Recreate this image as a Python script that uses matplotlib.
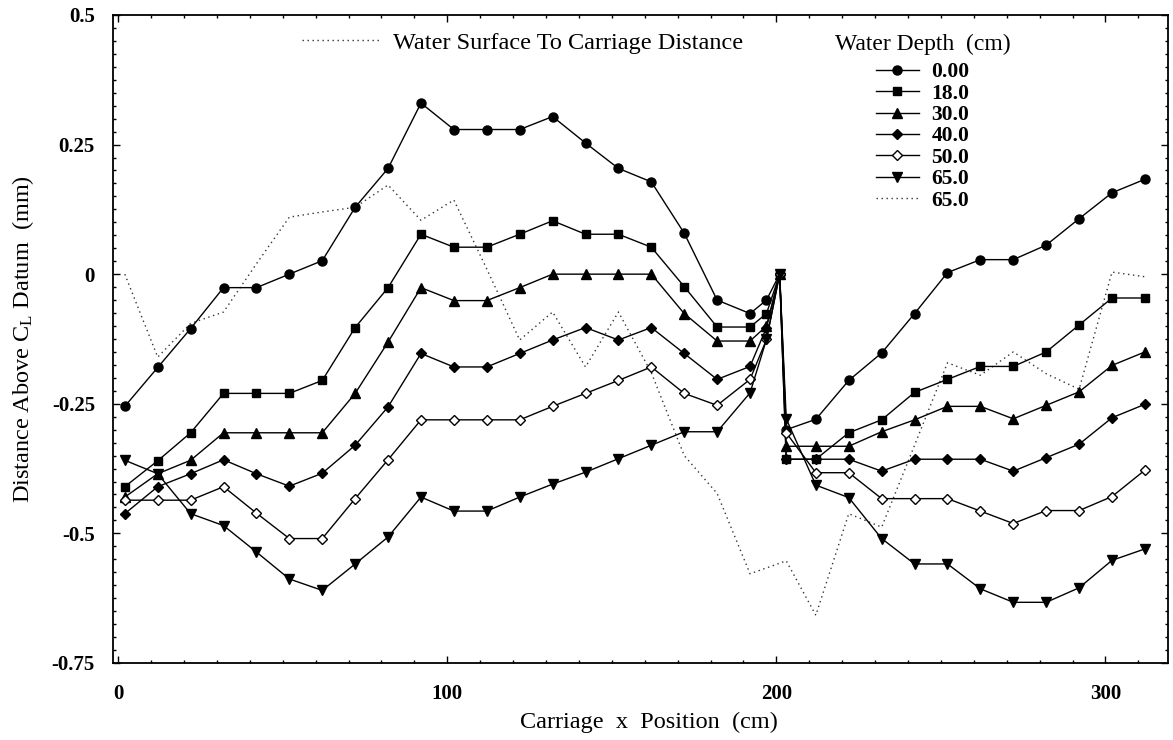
import matplotlib
matplotlib.use("Agg")
import matplotlib.pyplot as plt
from matplotlib.ticker import MultipleLocator

plt.rcParams['font.family'] = ['Liberation Serif', 'DejaVu Serif']

# carriage positions (cm): 10 cm steps, a short run up to the joint near 200, then 10 cm steps again
x_depth = [2, 12, 22, 32, 42, 52, 62, 72, 82, 92, 102, 112, 122, 132, 142, 152, 162, 172, 182, 192,
           197, 201, 203,
           212, 222, 232, 242, 252, 262, 272, 282, 292, 302, 312]
x_surface = [2, 12, 22, 32, 42, 52, 62, 72, 82, 92, 102, 112, 122, 132, 142, 152, 162, 172, 182, 192,
             203,
             212, 222, 232, 242, 252, 262, 272, 282, 292, 302, 312]

depth_labels = ['0.00', '18.0', '30.0', '40.0', '50.0', '65.0']

depth_000 = [-0.255, -0.18, -0.105, -0.026, -0.026, 0.0, 0.026, 0.129, 0.204, 0.33,
             0.279, 0.279, 0.279, 0.304, 0.253, 0.204, 0.178, 0.079, -0.05, -0.076,
             -0.05, 0.0, -0.30,
             -0.28, -0.205, -0.152, -0.076, 0.003, 0.028, 0.028, 0.056, 0.107, 0.157, 0.183]
depth_180 = [-0.41, -0.36, -0.306, -0.23, -0.23, -0.23, -0.205, -0.103, -0.026, 0.077,
             0.052, 0.052, 0.077, 0.103, 0.077, 0.077, 0.052, -0.024, -0.102, -0.102,
             -0.076, 0.0, -0.357,
             -0.357, -0.306, -0.281, -0.228, -0.203, -0.178, -0.178, -0.15, -0.098, -0.046, -0.046]
depth_300 = [-0.43, -0.385, -0.359, -0.306, -0.306, -0.306, -0.306, -0.23, -0.131, -0.026,
             -0.051, -0.051, -0.026, 0.0, 0.0, 0.0, 0.0, -0.076, -0.129, -0.129,
             -0.10, 0.0, -0.332,
             -0.332, -0.332, -0.304, -0.281, -0.255, -0.255, -0.279, -0.253, -0.227, -0.176, -0.15]
depth_400 = [-0.462, -0.41, -0.385, -0.358, -0.385, -0.409, -0.384, -0.33, -0.256, -0.153,
             -0.179, -0.179, -0.153, -0.127, -0.103, -0.127, -0.103, -0.153, -0.203, -0.178,
             -0.103, 0.0, -0.357,
             -0.357, -0.357, -0.38, -0.357, -0.357, -0.357, -0.38, -0.354, -0.328, -0.277, -0.251]
depth_500 = [-0.436, -0.436, -0.436, -0.41, -0.461, -0.51, -0.51, -0.433, -0.358, -0.281,
             -0.281, -0.281, -0.281, -0.255, -0.23, -0.205, -0.179, -0.23, -0.253, -0.203,
             -0.126, 0.0, -0.306,
             -0.383, -0.383, -0.433, -0.433, -0.433, -0.457, -0.481, -0.456, -0.456, -0.429, -0.378]
depth_650 = [-0.359, -0.385, -0.462, -0.485, -0.536, -0.588, -0.61, -0.559, -0.507, -0.43,
             -0.457, -0.457, -0.43, -0.405, -0.382, -0.356, -0.33, -0.304, -0.304, -0.229,
             -0.126, 0.0, -0.279,
             -0.407, -0.431, -0.51, -0.559, -0.559, -0.607, -0.633, -0.633, -0.605, -0.552, -0.53]

surface = [0.0, -0.16, -0.095, -0.073, 0.02, 0.11, 0.12, 0.129, 0.172, 0.104,
           0.143, 0.01, -0.127, -0.073, -0.179, -0.073, -0.19, -0.35, -0.423, -0.578,
           -0.553,
           -0.658, -0.462, -0.488, -0.33, -0.171, -0.195, -0.15, -0.192, -0.222, 0.004, -0.005]

y_ticks = [-0.75, -0.5, -0.25, 0, 0.25, 0.5]
y_tick_labels = ['-0.75', '-0.5', '-0.25', '0', '0.25', '0.5']
x_ticks = [0, 100, 200, 300]

fig = plt.figure(figsize=(11.73, 7.40), dpi=100)
ax = fig.add_axes([0.0963, 0.1041, 0.8994, 0.8757])

series = [depth_000, depth_180, depth_300, depth_400, depth_500, depth_650]
markers = ['o', 's', '^', 'D', 'D', 'v']
msizes = [6.5, 6, 6.5, 5, 5, 6.5]
faces = ['k', 'k', 'k', 'k', 'w', 'k']

# surface distance goes underneath the depth runs
surf_line, = ax.plot(x_surface, surface, color='#333333', lw=1.0, ls=(0, (1, 2.6)))

handles = []
for ys, m, ms, fc, lab in zip(series, markers, msizes, faces, depth_labels):
    h, = ax.plot(x_depth, ys, color='k', lw=1.0, marker=m, ms=ms,
                 mfc=fc, mec='k', mew=1.0, label=lab)
    handles.append(h)

ax.set_xlim(-1.6, 319)
ax.set_ylim(-0.75, 0.5)
ax.set_xticks(x_ticks)
ax.set_yticks(y_ticks)
ax.set_yticklabels(y_tick_labels)
ax.xaxis.set_minor_locator(MultipleLocator(10))
ax.yaxis.set_minor_locator(MultipleLocator(0.025))
ax.tick_params(which='both', direction='in', top=True, right=True, width=1)
ax.tick_params(which='major', length=5)
ax.tick_params(which='minor', length=2.5)
ax.tick_params(axis='x', which='major', pad=15)
ax.tick_params(axis='y', which='major', pad=13)
for lab in ax.get_xticklabels() + ax.get_yticklabels():
    lab.set_fontsize(15)
    lab.set_fontweight('bold')
for sp in ax.spines.values():
    sp.set_linewidth(1.3)

ax.set_xlabel('Carriage  x  Position  (cm)', fontsize=17.5, labelpad=6)
ax.xaxis.set_label_coords(0.508, -0.075)
ax.set_ylabel('Distance Above $\\mathregular{C_L}$ Datum  (mm)', fontsize=17.5, labelpad=11)

leg1 = ax.legend([surf_line], ['Water Surface To Carriage Distance'],
                 loc='center left', bbox_to_anchor=(0.1676, 0.957), frameon=False,
                 fontsize=17.5, handlelength=3.2, handletextpad=0.53, borderpad=0)
ax.add_artist(leg1)

leg2 = ax.legend(handles + [surf_line], depth_labels + ['65.0'],
                 loc='upper left', bbox_to_anchor=(0.674, 0.987), frameon=False,
                 title='Water Depth  (cm)', title_fontproperties={'size': 17},
                 prop={'size': 15.5, 'weight': 'bold'}, handlelength=2.0,
                 handletextpad=0.6, labelspacing=0.06, borderpad=0)
# a little more room between the title and the first entry
leg2._legend_box.sep = 5

fig.savefig('out.png', dpi=100)
